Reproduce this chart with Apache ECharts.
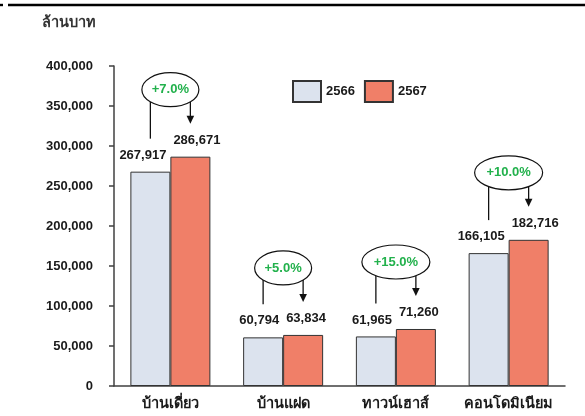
<!DOCTYPE html>
<html>
<head>
<meta charset="utf-8">
<script src="https://cdn.jsdelivr.net/npm/echarts@6/dist/echarts.min.js"></script>
<style>
html,body{margin:0;padding:0;background:#fff;}
#chart{width:585px;height:416px;}
</style>
</head>
<body>
<div id="chart"></div>
<script>
const categories = ['บ้านเดี่ยว', 'บ้านแฝด', 'ทาวน์เฮาส์', 'คอนโดมิเนียม'];
const seriesNames = ['2566', '2567'];
const values2566 = [267917, 60794, 61965, 166105];
const values2567 = [286671, 63834, 71260, 182716];
const changeLabels = ['+7.0%', '+5.0%', '+15.0%', '+10.0%'];
const yMin = 0, yMax = 400000, yInterval = 50000;
const unitTitle = 'ล้านบาท';

const FONT = '"Liberation Sans", Arial, "Noto Sans", sans-serif';
const BAR_W = 40;
const TEXT = '#1a1a1a';

const chart = echarts.init(document.getElementById('chart'), null, {renderer: 'canvas'});

const fmt = v => Number(v).toLocaleString('en-US');

function annot(params, api) {
  const i = api.value(0);
  const base = api.coord([i, 0]);
  const pG = api.coord([i, api.value(1)]);
  const pO = api.coord([i, api.value(2)]);
  const half = BAR_W / 2;
  const xg = base[0] - half, xo = base[0] + half;
  const cx = base[0], cy = pO[1] - 67;
  const label = changeLabels[params.dataIndex];
  const rx = label.length > 5 ? 34 : 28.5, ry = 17;
  const dy = ry * Math.sqrt(1 - Math.pow(half / rx, 2));
  const tipY = pO[1] - 33;
  const lineStyle = {stroke: '#111', lineWidth: 1.3};
  return {
    type: 'group',
    children: [
      {type: 'line', shape: {x1: xg, y1: cy + dy, x2: xg, y2: pG[1] - 33}, style: lineStyle},
      {type: 'line', shape: {x1: xo, y1: cy + dy, x2: xo, y2: tipY - 7}, style: lineStyle},
      {type: 'polygon', shape: {points: [[xo - 3.8, tipY - 8], [xo + 3.8, tipY - 8], [xo, tipY]]}, style: {fill: '#111'}},
      {type: 'ellipse', shape: {cx: cx, cy: cy, rx: rx, ry: ry}, style: {fill: '#fff', stroke: '#111', lineWidth: 1.2}},
      {type: 'text', x: cx, y: cy, style: {text: label, fill: '#22b14c', font: 'bold 13px ' + FONT, align: 'center', verticalAlign: 'middle'}}
    ]
  };
}

const option = {
  animation: false,
  backgroundColor: '#fff',
  textStyle: {fontFamily: FONT},
  grid: {left: 114, right: 20, top: 66, bottom: 30},
  graphic: [
    {type: 'line', shape: {x1: 0, y1: 5, x2: 3, y2: 5}, style: {stroke: '#000', lineWidth: 2.4}},
    {type: 'line', shape: {x1: 8, y1: 5, x2: 585, y2: 5}, style: {stroke: '#000', lineWidth: 2.4}},
    {type: 'text', left: 42, top: 15, style: {text: unitTitle, fill: '#333', font: 'bold 14.5px ' + FONT}}
  ],
  legend: {
    data: seriesNames,
    left: 287, top: 75,
    itemWidth: 28, itemHeight: 21, itemGap: 9,
    icon: 'rect',
    textStyle: {fontSize: 13, fontWeight: 'bold', color: TEXT, fontFamily: FONT}
  },
  xAxis: {
    type: 'category',
    data: categories,
    axisLine: {lineStyle: {color: '#404040', width: 1.5}},
    axisTick: {show: false},
    axisLabel: {interval: 0, hideOverlap: false, fontSize: 14.5, fontWeight: 'bold', color: TEXT, margin: 10, fontFamily: FONT}
  },
  yAxis: {
    type: 'value',
    min: yMin, max: yMax, interval: yInterval,
    axisLine: {show: true, lineStyle: {color: '#404040', width: 1.5}},
    axisTick: {show: true, length: 5, lineStyle: {color: '#404040', width: 1.5}},
    splitLine: {show: false},
    axisLabel: {fontSize: 13, fontWeight: 'bold', color: TEXT, margin: 21, formatter: fmt, fontFamily: FONT}
  },
  series: [
    {
      name: seriesNames[0], type: 'bar', data: values2566, barWidth: BAR_W, barGap: '0%',
      itemStyle: {color: '#dce3ee', borderColor: '#333', borderWidth: 1},
      label: {show: true, position: 'top', distance: 10, align: 'right', offset: [16, 0],
        formatter: p => fmt(p.value), fontSize: 13, fontWeight: 'bold', color: TEXT, fontFamily: FONT}
    },
    {
      name: seriesNames[1], type: 'bar', data: values2567, barWidth: BAR_W,
      itemStyle: {color: '#f07f68', borderColor: '#333', borderWidth: 1},
      label: {show: true, position: 'top', distance: 10, align: 'left', offset: [-17, 0],
        formatter: p => fmt(p.value), fontSize: 13, fontWeight: 'bold', color: TEXT, fontFamily: FONT}
    },
    {
      name: 'change', type: 'custom', silent: true, clip: false, z: 5,
      renderItem: annot,
      data: categories.map((c, i) => [i, values2566[i], values2567[i]])
    }
  ]
};
chart.setOption(option);
</script>
</body>
</html>
